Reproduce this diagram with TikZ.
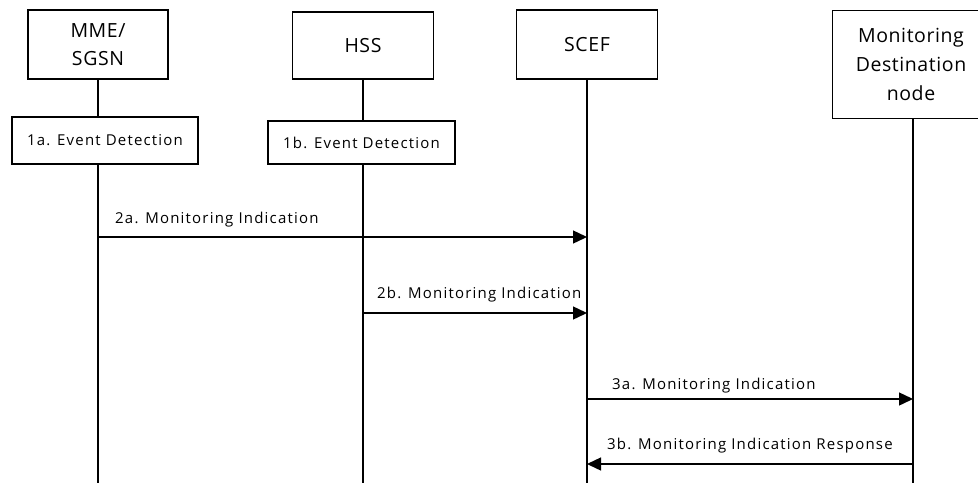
\documentclass[tikz,border=0pt]{standalone}
\usepackage{fontspec}
\setmainfont{Open Sans}
\newfontfamily\lblfont[LetterSpace=8]{Open Sans}
\newfontfamily\ttlfont[LetterSpace=3]{Open Sans}
\usetikzlibrary{arrows.meta}
\begin{document}
\begin{tikzpicture}[x=1pt,y=-1pt,
  entity/.style={draw,line width=1.3pt,fill=white,align=center,inner sep=0pt,font=\ttlfont\fontsize{19.5}{28.5}\selectfont},
  evbox/.style={draw,line width=1.3pt,fill=white,inner sep=0pt,font=\lblfont\fontsize{15}{17}\selectfont},
  life/.style={line width=1.4pt},
  msg/.style={line width=1.4pt,-{Triangle[length=14pt,width=13pt]}},
  lbl/.style={anchor=base west,inner sep=0pt,font=\lblfont\fontsize{15}{17}\selectfont}]
\useasboundingbox (0,0) rectangle (978,483);
\begin{scope}
\clip (0,0) rectangle (978,483);
% lifelines
\coordinate (mmeB) at (98,483);
\coordinate (hssB) at (363,483);
\coordinate (scefB) at (587,483);
\coordinate (mdnB) at (913,483);
\node[entity,minimum width=140pt,minimum height=69pt] (mme) at (98,44.5) {MME/\\SGSN};
\node[entity,minimum width=141pt,minimum height=67pt] (hss) at (363,45.5) {HSS};
\node[entity,minimum width=141pt,minimum height=69pt] (scef) at (587,44.5) {SCEF};
\node[draw,line width=1.3pt,fill=white,minimum width=170pt,minimum height=108pt,inner sep=0pt,anchor=north west] (mdnbox) at (832,10) {};
\node[align=center,inner sep=0pt,font=\ttlfont\fontsize{19.5}{29}\selectfont] (mdn) at (911,64) {Monitoring\\Destination\\node};
\coordinate (mdnS) at (913,118);
\draw[life] (mme.south) -- (mmeB);
\draw[life] (hss.south) -- (hssB);
\draw[life] (scef.south) -- (scefB);
\draw[life] (mdnS) -- (mdnB);
% event boxes
\node[evbox,minimum width=186pt,minimum height=47pt] (e1a) at (105,140.5) {1a. Event Detection};
\node[evbox,minimum width=187pt,minimum height=43pt] (e1b) at (361.5,142.5) {1b. Event Detection};
% message coordinates
\coordinate (m2a) at (98,237);
\coordinate (s2a) at (587,237);
\coordinate (h2b) at (363,313);
\coordinate (s2b) at (587,313);
\coordinate (s3a) at (587,399);
\coordinate (d3a) at (913,399);
\coordinate (d3b) at (913,464);
\coordinate (s3b) at (587,464);
\draw[msg] (m2a) -- (s2a);
\draw[msg] (h2b) -- (s2b);
\draw[msg] (s3a) -- (d3a);
\draw[msg] (d3b) -- (s3b);
\node[lbl] (l2a) at (115,223) {2a. Monitoring Indication};
\node[lbl] (l2b) at (377,298) {2b. Monitoring Indication};
\node[lbl] (l3a) at (612,389) {3a. Monitoring Indication};
\node[lbl] (l3b) at (607,449) {3b. Monitoring Indication Response};
\end{scope}
\end{tikzpicture}
\end{document}
